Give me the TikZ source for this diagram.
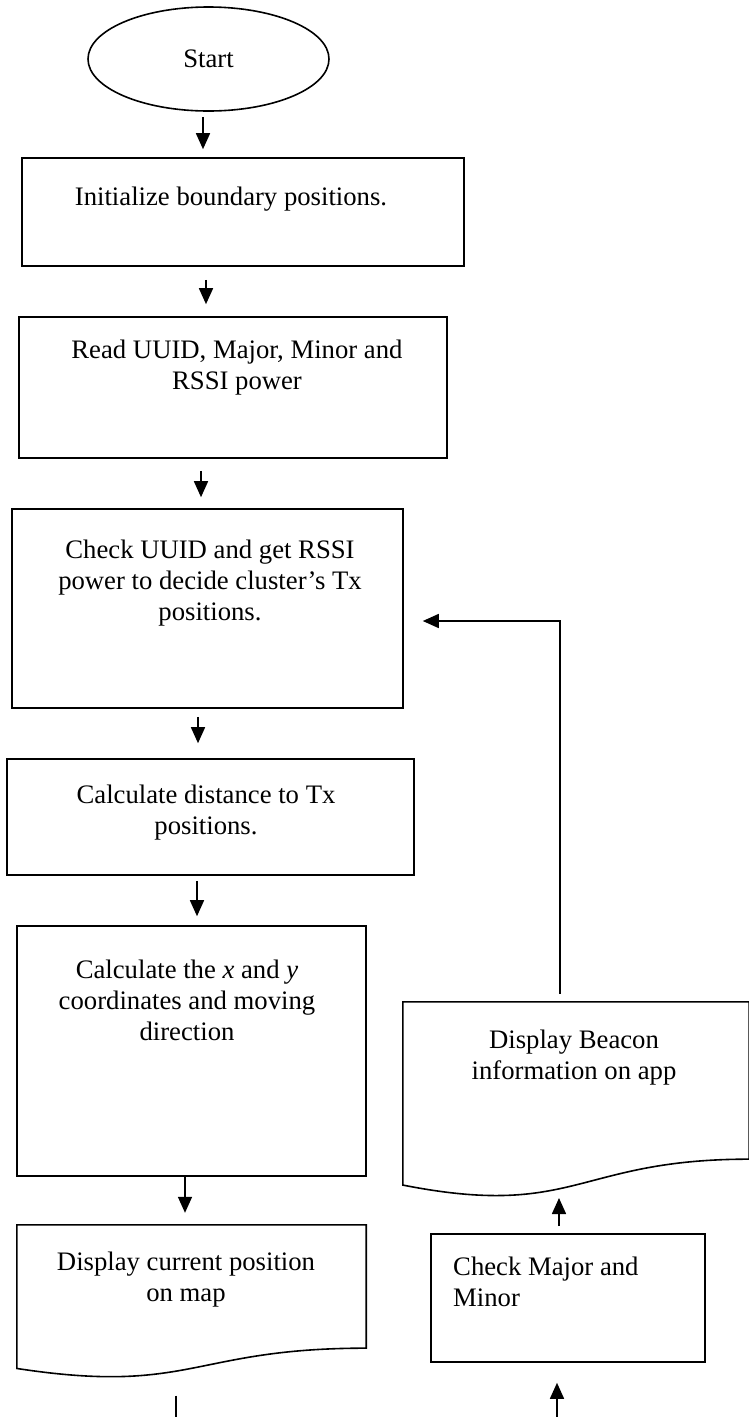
\documentclass[tikz,border=0pt]{standalone}
\usepackage{fontspec}
\setmainfont{Liberation Serif}
\usetikzlibrary{shapes.geometric,arrows.meta,calc}
\tikzset{
	box/.style={draw, rectangle, line width=1.6pt, inner sep=0pt},
	docbox/.style={rectangle, inner sep=0pt},
	txt/.style={align=center, anchor=north, inner sep=0pt, font=\fontsize{26.7}{31}\selectfont},
	arr/.style={-{Triangle[length=16pt,width=14pt]}, line width=1.6pt},
}
\begin{document}
\begin{tikzpicture}[x=1pt, y=-1pt]
	\useasboundingbox (0,0) rectangle (748,1417);
	% left column
	\node[draw, ellipse, line width=1.6pt, minimum width=241pt, minimum height=104pt, inner sep=0pt, font=\fontsize{26.7}{31}\selectfont] (start) at (208.5,59) {Start};
	\node[box, minimum width=442pt, minimum height=108pt] (init) at (243,212) {};
	\node[box, minimum width=428pt, minimum height=141pt] (readid) at (233,387.5) {};
	\node[box, minimum width=391pt, minimum height=199pt] (checkid) at (207.5,608.5) {};
	\node[box, minimum width=407pt, minimum height=116pt] (dist) at (210.5,817) {};
	\node[box, minimum width=349pt, minimum height=250pt] (coord) at (191.5,1051) {};
	\node[docbox, minimum width=349pt, minimum height=153.4pt] (showpos) at (191.5,1301.7) {};
	% right column
	\node[docbox, minimum width=346pt, minimum height=195.8pt] (showbeacon) at (576,1099.9) {};
	\node[box, minimum width=274pt, minimum height=128pt] (checkmm) at (568,1298) {};
	\foreach \d in {showpos,showbeacon}
	  {
	      \draw[line width=1.6pt] (\d.north west) -- (\d.north east) -- ($(\d.north east)!0.802!(\d.south east)$)
	        .. controls ($(\d.north)!0.802!(\d.south)$) and ($(\d.north)!1.108!(\d.south)$) .. ($(\d.north west)!0.934!(\d.south west)$) -- cycle;
	  }
	% texts
	\node[txt] (init-t) at (231,187) {Initialize boundary positions.};
	\node[txt] (readid-t) at (237,340) {Read UUID, Major, Minor and\\RSSI power};
	\node[txt] (checkid-t) at (210,540) {Check UUID and get RSSI\\power to decide cluster’s Tx\\positions.};
	\node[txt] (dist-t) at (206,785) {Calculate distance to Tx\\positions.};
	\node[txt] (coord-t) at (187,960) {Calculate the \textit{x} and \textit{y}\\coordinates and moving\\direction};
	\node[txt] (showpos-t) at (186,1252) {Display current position\\on map};
	\node[txt] (showbeacon-t) at (574,1030) {Display Beacon\\information on app};
	\node[txt, anchor=north west, align=left] (checkmm-t) at (453,1257) {Check Major and\\Minor};
	% connectors
	\coordinate (posout) at (176,1420);
	\coordinate (mmin) at (557,1420);
	\draw[arr, shorten <=5pt, shorten >=8pt] (203,0 |- start.south) -- (203,0 |- init.north);
	\draw[arr, shorten <=13pt, shorten >=12pt] (206,0 |- init.south) -- (206,0 |- readid.north);
	\draw[arr, shorten <=12pt, shorten >=11pt] (201,0 |- readid.south) -- (201,0 |- checkid.north);
	\draw[arr, shorten <=8pt, shorten >=15pt] (198,0 |- checkid.south) -- (198,0 |- dist.north);
	\draw[arr, shorten <=5pt, shorten >=9pt] (197,0 |- dist.south) -- (197,0 |- coord.north);
	\draw[arr, shorten >=12pt] (185,0 |- coord.south) -- (185,0 |- showpos.north);
	\draw[line width=1.6pt, shorten <=17pt] (posout |- showpos.south) -- (posout);
	\draw[arr, shorten >=20pt] (mmin) -- (mmin |- checkmm.south);
	\draw[arr, shorten <=7pt] (559,0 |- checkmm.north) -- (559,0 |- showbeacon.south);
	\draw[arr, shorten <=8pt, shorten >=19pt] (560,0 |- showbeacon.north) |- ($(checkid.east)+(0,12.5)$);
\end{tikzpicture}
\end{document}
